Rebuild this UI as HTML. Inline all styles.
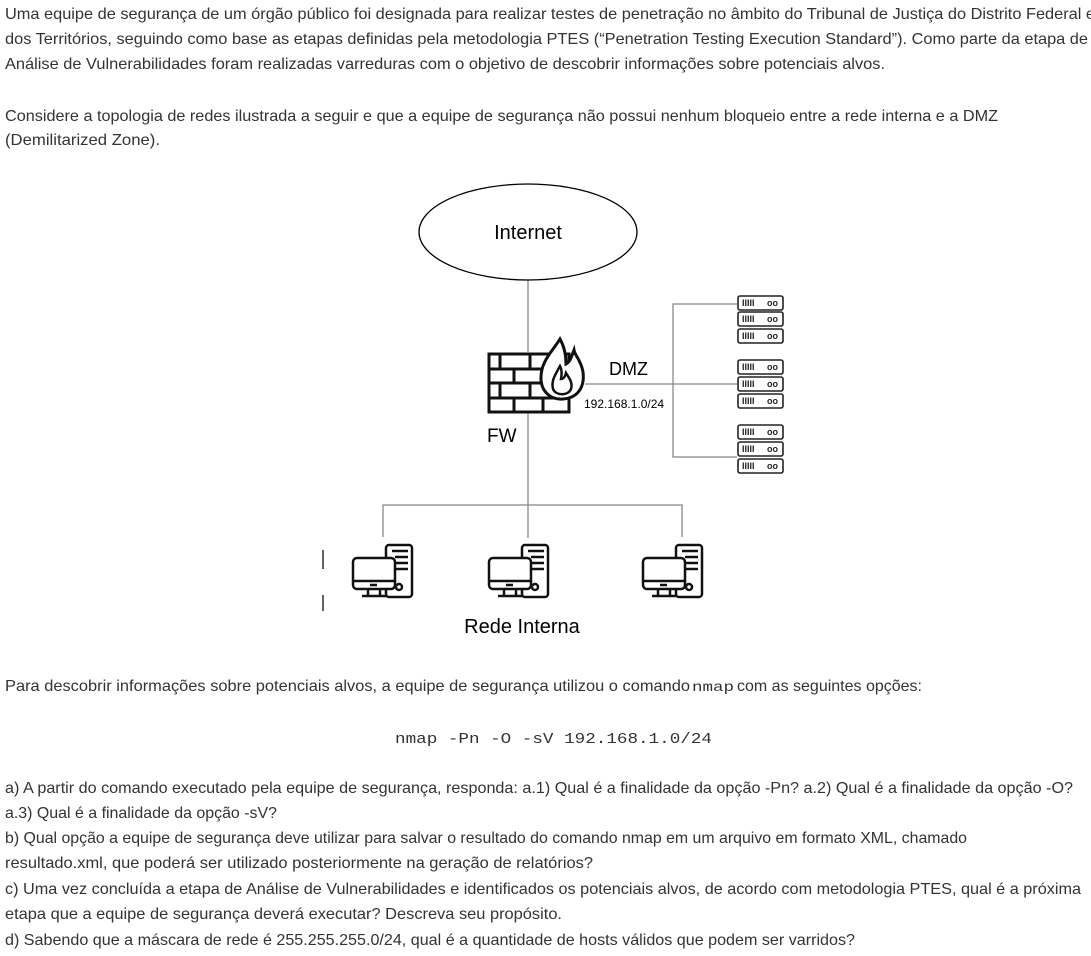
<!DOCTYPE html>
<html><head><meta charset="utf-8"><style>
html,body{margin:0;padding:0;background:#fff;width:1091px;height:956px;overflow:hidden}
svg{display:block}
.t{font-family:"Liberation Sans",sans-serif;font-size:16px;fill:#333}
.m{font-family:"Liberation Mono",monospace;font-size:15px;fill:#333}
.d{font-family:"Liberation Sans",sans-serif;fill:#000}
</style></head><body>
<svg width="1091" height="956" viewBox="0 0 1091 956" xmlns="http://www.w3.org/2000/svg">
<g class="t">
<text x="5" y="19" textLength="1090" lengthAdjust="spacingAndGlyphs">Uma equipe de segurança de um órgão público foi designada para realizar testes de penetração no âmbito do Tribunal de Justiça do Distrito Federal e</text>
<text x="5" y="44" textLength="1083" lengthAdjust="spacingAndGlyphs">dos Territórios, seguindo como base as etapas definidas pela metodologia PTES (“Penetration Testing Execution Standard”). Como parte da etapa de</text>
<text x="5" y="69" textLength="880" lengthAdjust="spacingAndGlyphs">Análise de Vulnerabilidades foram realizadas varreduras com o objetivo de descobrir informações sobre potenciais alvos.</text>
<text x="5" y="121" textLength="993" lengthAdjust="spacingAndGlyphs">Considere a topologia de redes ilustrada a seguir e que a equipe de segurança não possui nenhum bloqueio entre a rede interna e a DMZ</text>
<text x="5" y="145" textLength="155" lengthAdjust="spacingAndGlyphs">(Demilitarized Zone).</text>
<text x="5" y="691" textLength="685" lengthAdjust="spacingAndGlyphs">Para descobrir informações sobre potenciais alvos, a equipe de segurança utilizou o comando</text>
<text x="692" y="691" class="m" style="font-size:14px" textLength="42" lengthAdjust="spacingAndGlyphs">nmap</text>
<text x="737" y="691" textLength="185" lengthAdjust="spacingAndGlyphs">com as seguintes opções:</text>
<text x="395" y="743" class="m" textLength="317" lengthAdjust="spacingAndGlyphs">nmap -Pn -O -sV 192.168.1.0/24</text>
<text x="5" y="793" textLength="1068" lengthAdjust="spacingAndGlyphs">a) A partir do comando executado pela equipe de segurança, responda: a.1) Qual é a finalidade da opção -Pn? a.2) Qual é a finalidade da opção -O?</text>
<text x="5" y="818" textLength="272" lengthAdjust="spacingAndGlyphs">a.3) Qual é a finalidade da opção -sV?</text>
<text x="5" y="843" textLength="962" lengthAdjust="spacingAndGlyphs">b) Qual opção a equipe de segurança deve utilizar para salvar o resultado do comando nmap em um arquivo em formato XML, chamado</text>
<text x="5" y="868" textLength="588" lengthAdjust="spacingAndGlyphs">resultado.xml, que poderá ser utilizado posteriormente na geração de relatórios?</text>
<text x="5" y="894" textLength="1076" lengthAdjust="spacingAndGlyphs">c) Uma vez concluída a etapa de Análise de Vulnerabilidades e identificados os potenciais alvos, de acordo com metodologia PTES, qual é a próxima</text>
<text x="5" y="919" textLength="557" lengthAdjust="spacingAndGlyphs">etapa que a equipe de segurança deverá executar? Descreva seu propósito.</text>
<text x="5" y="945" textLength="850" lengthAdjust="spacingAndGlyphs">d) Sabendo que a máscara de rede é 255.255.255.0/24, qual é a quantidade de hosts válidos que podem ser varridos?</text>
</g>
<g stroke="#888" stroke-width="1.3" fill="none">
<line x1="528" y1="280" x2="528" y2="352"/>
<line x1="528" y1="413" x2="528" y2="538"/>
<polyline points="383,537 383,505 682,505 682,537"/>
<line x1="585" y1="384" x2="737" y2="384"/>
<polyline points="737,304 673,304 673,457 737,457"/>
</g>
<ellipse cx="528" cy="232" rx="109" ry="48" fill="#fff" stroke="#000" stroke-width="1.3"/>
<text x="528" y="239" class="d" font-size="20" text-anchor="middle">Internet</text>
<g stroke="#111" stroke-width="3" fill="#fff">
<rect x="489" y="354" width="80" height="58"/>
<line x1="489" y1="369" x2="569" y2="369"/><line x1="489" y1="383" x2="569" y2="383"/><line x1="489" y1="398" x2="569" y2="398"/>
<line x1="500" y1="354" x2="500" y2="369"/><line x1="530" y1="354" x2="530" y2="369"/><line x1="555" y1="354" x2="555" y2="369"/>
<line x1="514" y1="369" x2="514" y2="383"/><line x1="543" y1="369" x2="543" y2="383"/>
<line x1="500" y1="383" x2="500" y2="398"/><line x1="530" y1="383" x2="530" y2="398"/>
<line x1="514" y1="398" x2="514" y2="412"/><line x1="543" y1="398" x2="543" y2="412"/>
<path d="M560 339 C552 352 540 362 541 380 C542 393 552 400 563 399 C577 398 585 388 583 372 C581 360 575 356 574 350 C571 358 570 362 566 364 C566 355 564 346 560 339 Z"/>
<path d="M560 366 C555 375 551 381 553 389 C556 396 568 396 571 389 C573 382 569 378 566 373 C565 377 563 379 561 379 C562 374 562 370 560 366 Z" stroke-width="2.5"/>
</g>
<text x="609" y="375" class="d" font-size="18">DMZ</text>
<text x="584" y="408" class="d" font-size="12">192.168.1.0/24</text>
<text x="487" y="442" class="d" font-size="19">FW</text>
<g stroke="#222" stroke-width="1.6" fill="#fff">
<rect x="738" y="296" width="45" height="14" rx="2"/><rect x="738" y="312" width="45" height="14" rx="2"/><rect x="738" y="329" width="45" height="14" rx="2"/>
<rect x="738" y="360" width="45" height="14" rx="2"/><rect x="738" y="377" width="45" height="14" rx="2"/><rect x="738" y="394" width="45" height="14" rx="2"/>
<rect x="738" y="425" width="45" height="14" rx="2"/><rect x="738" y="442" width="45" height="14" rx="2"/><rect x="738" y="459" width="45" height="14" rx="2"/>
</g>
<g font-family="Liberation Sans,sans-serif" font-size="9" font-weight="bold" fill="#222">
<text x="742" y="306">IIIII</text><text x="742" y="322">IIIII</text><text x="742" y="339">IIIII</text>
<text x="742" y="370">IIIII</text><text x="742" y="387">IIIII</text><text x="742" y="404">IIIII</text>
<text x="742" y="435">IIIII</text><text x="742" y="452">IIIII</text><text x="742" y="469">IIIII</text>
<text x="767" y="306">oo</text><text x="767" y="322">oo</text><text x="767" y="339">oo</text>
<text x="767" y="370">oo</text><text x="767" y="387">oo</text><text x="767" y="404">oo</text>
<text x="767" y="435">oo</text><text x="767" y="452">oo</text><text x="767" y="469">oo</text>
</g>
<defs>
<g id="pc" stroke="#111" stroke-width="2.5" fill="#fff">
<rect x="33" y="0" width="26" height="52" rx="3"/>
<line x1="39" y1="6" x2="55" y2="6"/><line x1="42" y1="12" x2="55" y2="12"/><line x1="42" y1="18" x2="55" y2="18"/><line x1="42" y1="24" x2="55" y2="24"/>
<circle cx="46" cy="42" r="3"/>
<rect x="0" y="13" width="42" height="31" rx="4"/>
<line x1="0" y1="36" x2="42" y2="36"/>
<line x1="17" y1="40" x2="24" y2="40"/>
<line x1="15" y1="44" x2="15" y2="50"/><line x1="27" y1="44" x2="27" y2="50"/>
<line x1="9" y1="51" x2="33" y2="51"/>
</g>
</defs>
<use href="#pc" x="353" y="545"/>
<use href="#pc" x="489" y="545"/>
<use href="#pc" x="643" y="545"/>
<line x1="323" y1="550" x2="323" y2="569" stroke="#111" stroke-width="1.3"/>
<line x1="323" y1="595" x2="323" y2="611" stroke="#111" stroke-width="1.3"/>
<text x="522" y="633" class="d" font-size="20" text-anchor="middle">Rede Interna</text>
</svg>
</body></html>
